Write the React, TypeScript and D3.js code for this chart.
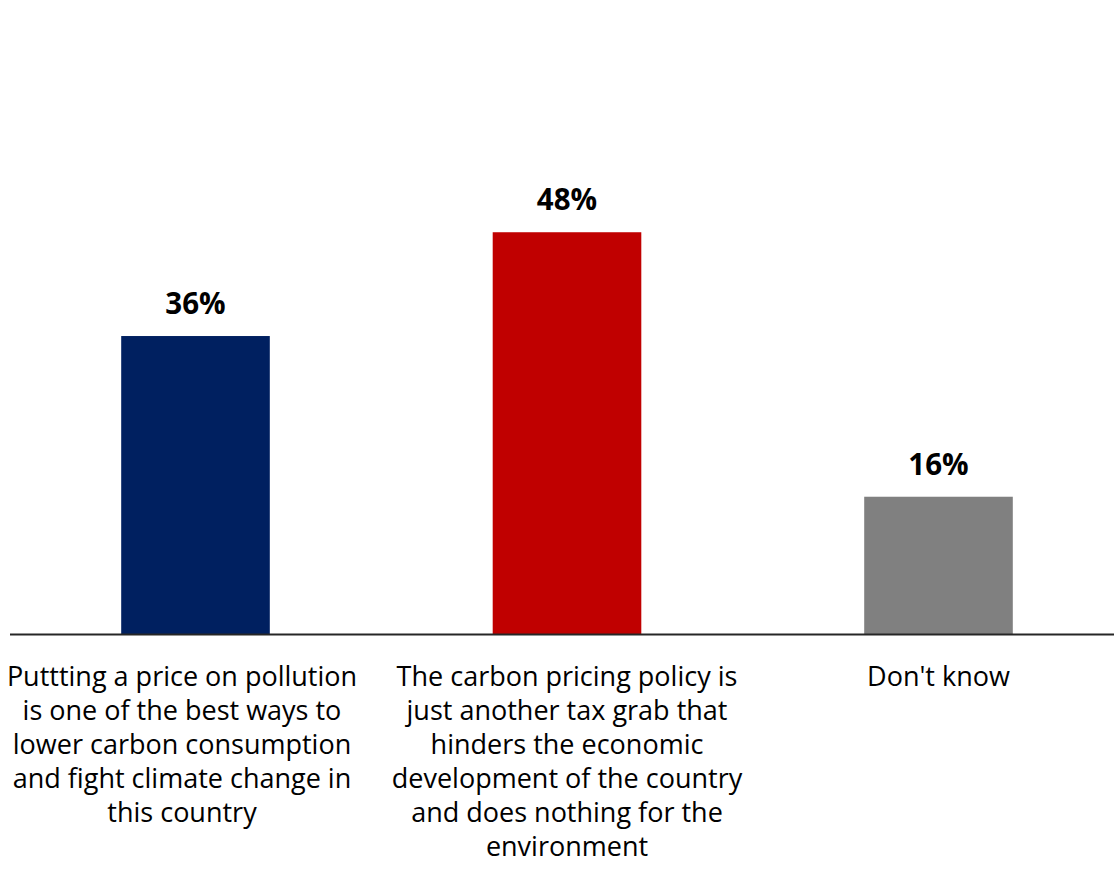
import React from "react";
import * as d3 from "d3";

const categories = ["pricing", "taxgrab", "dontknow"];
const categoryLines: string[][] = [
  ["Puttting a price on pollution", "is one of the best ways to", "lower carbon consumption", "and fight climate change in", "this country"],
  ["The carbon pricing policy is", "just another tax grab that", "hinders the economic", "development of the country", "and does nothing for the", "environment"],
  ["Don't know"],
];
const values = [35.6, 48.0, 16.4];
const valueLabels = ["36%", "48%", "16%"];
const colors = ["#002060", "#C00000", "#808080"];

const W = 1114;
const H = 886;
const BASE = 634;
const FONT = "'Open Sans', Lato, sans-serif";

export default function App() {
  const x = d3
    .scaleBand<string>()
    .domain(categories)
    .range([9.75, 1124.25])
    .paddingInner(0.6)
    .paddingOuter(0.3);
  const y = d3.scaleLinear().domain([0, 60]).range([BASE, BASE - 60 * 8.37]);
  // label boxes are as wide as the text area; the first one is pinned to the left edge
  const labelBox = 364;

  return (
    <div style={{ position: "absolute", left: 0, top: 0 }}>
      <svg width={W} height={H} style={{ display: "block", background: "#fff" }}>
        {categories.map((c, i) => {
          const x0 = x(c)!;
          const cx = x0 + x.bandwidth() / 2;
          return (
            <g key={c}>
              <rect x={x0} y={y(values[i])} width={x.bandwidth()} height={BASE - y(values[i])} fill={colors[i]} />
              <text
                x={cx}
                y={y(values[i]) - 22}
                textAnchor="middle"
                fontFamily={FONT}
                fontWeight={700}
                fontSize={29.5}
                fill="#000"
              >
                {valueLabels[i]}
              </text>
            </g>
          );
        })}
        <line x1={10} x2={W} y1={BASE + 0.5} y2={BASE + 0.5} stroke="#262626" strokeWidth={2} />
        {categories.map((c, i) => {
          const center = x(c)! + x.bandwidth() / 2;
          const cx = i === 0 ? labelBox / 2 : center;
          return (
            <text key={c} textAnchor="middle" fontFamily={FONT} fontSize={27} fill="#000">
              {categoryLines[i].map((ln, j) => (
                <tspan key={j} x={cx} y={686 + j * 34}>
                  {ln}
                </tspan>
              ))}
            </text>
          );
        })}
      </svg>
    </div>
  );
}
